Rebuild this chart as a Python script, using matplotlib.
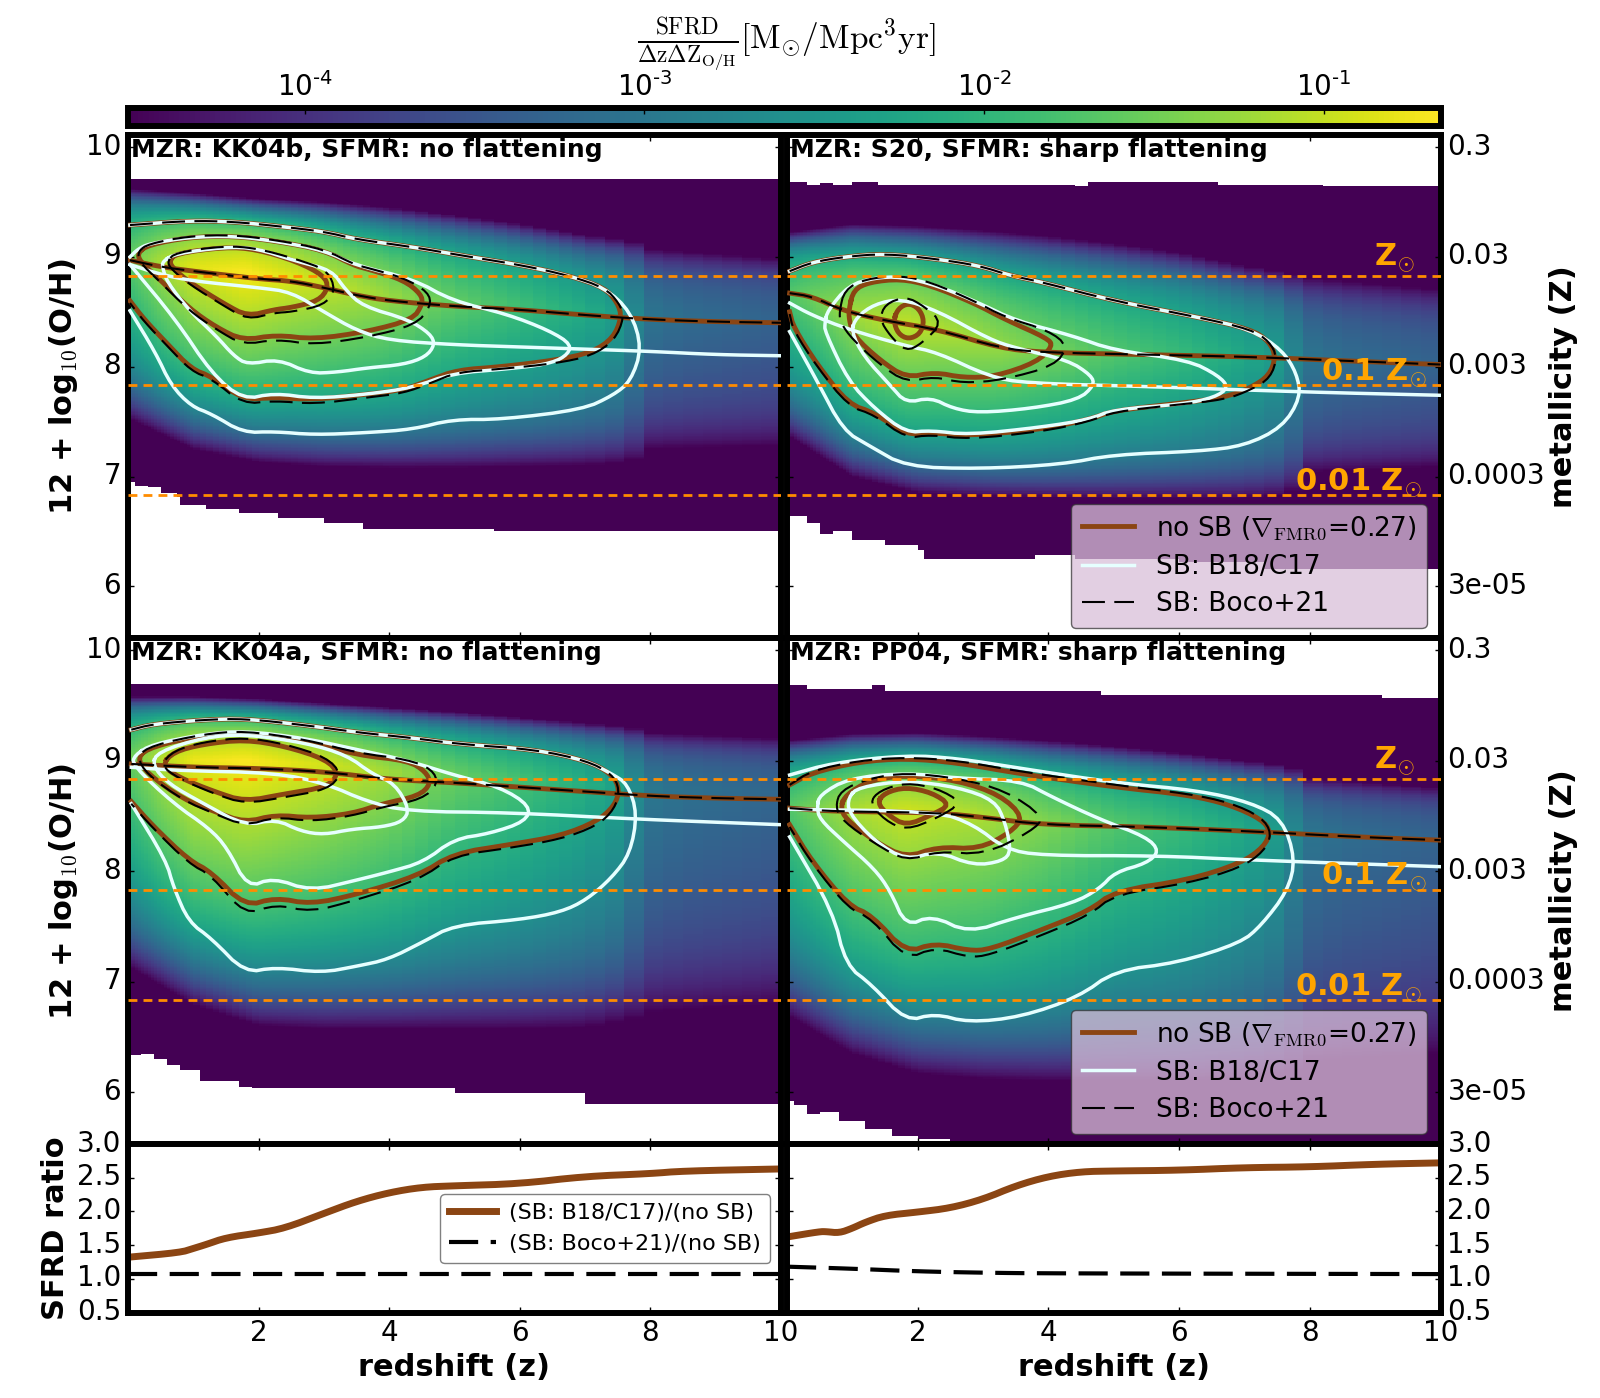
import numpy as np
import matplotlib
matplotlib.use('Agg')
import matplotlib.pyplot as plt
from matplotlib.colors import LogNorm
from matplotlib.lines import Line2D
from matplotlib.cm import ScalarMappable
from matplotlib.transforms import ScaledTranslation

# ---------------- titles and tick labels
titles = ['MZR: KK04b, SFMR: no flattening', 'MZR: S20, SFMR: sharp flattening',
          'MZR: KK04a, SFMR: no flattening', 'MZR: PP04, SFMR: sharp flattening']
oh_ticks = [6, 7, 8, 9, 10]
z_ticklabels = ['3e-05', '0.0003', '0.003', '0.03', '0.3']
solar_levels = [8.83, 7.83, 6.83]
cb_ticks = [1e-4, 1e-3, 1e-2, 1e-1]
log_vmin, log_vmax = -4.52, -0.657

# ---------------- heat-map description (log10 SFRD at the ridge, edges of the colour)
knots_p = [0, .5, 1, 1.8, 3, 4, 5, 6, 7, 7.6, 7.9, 8.5, 10]
TL_peak = [-1.6, -1.15, -.85, -.68, -.98, -1.25, -1.6, -1.85, -2.15, -2.4, -3.0, -3.15, -3.3]
TR_peak = [-1.7, -1.45, -1.2, -1.02, -1.22, -1.45, -1.7, -1.9, -2.2, -2.45, -3.0, -3.15, -3.3]
BL_peak = [-1.55, -1.1, -.78, -.68, -.92, -1.2, -1.55, -1.8, -2.1, -2.35, -2.95, -3.1, -3.25]
BR_peak = [-1.7, -1.4, -1.15, -.95, -1.13, -1.4, -1.7, -1.9, -2.2, -2.45, -3.0, -3.15, -3.3]
ridge_shift = [.05, 0, .07, .03]

knots_e = [0, 1, 2, 3, 4, 5, 6, 7, 7.7, 8, 10]
TL_top = [9.62, 9.58, 9.53, 9.5, 9.45, 9.38, 9.3, 9.2, 9.15, 9.07, 8.98]
TL_bot = [7.53, 7.25, 7.13, 7.09, 7.08, 7.08, 7.09, 7.1, 7.13, 7.25, 7.28]
TR_top = [9.22, 9.3, 9.28, 9.24, 9.19, 9.12, 9.04, 8.92, 8.85, 8.81, 8.7]
TR_bot = [7.38, 7.0, 6.85, 6.82, 6.81, 6.8, 6.8, 6.8, 6.83, 7.04, 7.09]
BL_top = [9.58, 9.58, 9.56, 9.52, 9.48, 9.44, 9.39, 9.34, 9.3, 9.25, 9.2]
BL_bot = [7.14, 6.79, 6.6, 6.57, 6.57, 6.57, 6.57, 6.58, 6.65, 6.72, 6.8]
BR_top = [9.18, 9.24, 9.25, 9.22, 9.18, 9.13, 9.07, 9.0, 8.95, 8.84, 8.75]
BR_bot = [6.7, 6.35, 6.17, 6.12, 6.1, 6.1, 6.1, 6.12, 6.18, 6.28, 6.35]

# edges of the populated area (white beyond)
TL_hi_z = [0, 10]
TL_hi = [9.71, 9.71]
TL_lo_z = [0, .1, .3, .5, .75, .8, 1.2, 1.7, 2.3, 3, 3.6, 5.6]
TL_lo = [6.96, 6.92, 6.9, 6.85, 6.81, 6.74, 6.7, 6.66, 6.62, 6.58, 6.52, 6.5]
TR_hi_z = [0, .3, .5, .7, 1.0, 1.4, 2, 4.5, 4.7, 6.6, 8.2]
TR_hi = [9.68, 9.66, 9.67, 9.66, 9.68, 9.66, 9.66, 9.65, 9.68, 9.66, 9.64]
TR_lo_z = [0, .3, .5, .7, 1, 1.5, 2, 2.1, 3, 3.8, 4.5, 6, 7.3]
TR_lo = [6.64, 6.58, 6.47, 6.5, 6.42, 6.38, 6.34, 6.25, 6.25, 6.28, 6.25, 6.22, 6.16]
BL_hi_z = [0, 10]
BL_hi = [9.69, 9.69]
BL_lo_z = [0, .2, .4, .6, .8, 1.1, 1.7, 1.9, 4.8, 5, 7]
BL_lo = [6.34, 6.35, 6.3, 6.25, 6.2, 6.1, 6.05, 6.03, 6.03, 6.0, 5.9]
BR_hi_z = [0, .3, 1.0, 1.3, 1.5, 4.3, 4.9, 9.0]
BR_hi = [9.68, 9.65, 9.65, 9.68, 9.63, 9.63, 9.6, 9.57]
BR_lo_z = [0, .1, .3, .5, .8, 1.2, 1.6, 2, 2.5, 3]
BR_lo = [5.92, 5.88, 5.8, 5.82, 5.74, 5.67, 5.6, 5.58, 5.53, 5.4]

# ---------------- mean-metallicity lines
TL_mean_nosb = [(.03, 8.97), (.5, 8.91), (1, 8.87), (2, 8.8), (2.5, 8.78), (3, 8.72), (3.5, 8.65), (4, 8.6), (5, 8.55), (6, 8.52), (7, 8.47), (8, 8.43), (9, 8.41), (10, 8.4)]
TL_mean_b18 = [(.03, 8.93), (.5, 8.84), (1, 8.78), (2, 8.72), (2.5, 8.68), (3, 8.5), (3.5, 8.33), (4, 8.24), (5, 8.2), (6, 8.18), (7, 8.16), (8, 8.14), (9, 8.11), (10, 8.1)]
TR_mean_nosb = [(.04, 8.67), (.38, 8.64), (.86, 8.51), (1.5, 8.42), (2.3, 8.34), (3.26, 8.17), (3.9, 8.13), (5.5, 8.11), (7.1, 8.09), (8.7, 8.05), (10, 8.02)]
TR_mean_b18 = [(.04, 8.58), (.38, 8.47), (.94, 8.34), (1.82, 8.19), (2.3, 8.13), (3.1, 7.91), (3.66, 7.85), (5.5, 7.82), (7.9, 7.77), (10, 7.74)]
BL_mean_nosb = [(.05, 8.97), (1, 8.94), (2, 8.93), (3, 8.9), (4, 8.83), (5, 8.8), (6, 8.76), (7, 8.72), (8, 8.68), (9, 8.66), (10, 8.65)]
BL_mean_b18 = [(.05, 8.94), (.77, 8.91), (2.26, 8.89), (3.04, 8.79), (3.66, 8.63), (4.29, 8.54), (5.85, 8.53), (7.8, 8.47), (10, 8.42)]
BR_mean_nosb = [(.04, 8.57), (.7, 8.54), (2.3, 8.53), (3.1, 8.48), (3.9, 8.42), (5.5, 8.4), (7.1, 8.36), (8.7, 8.31), (10, 8.28)]
BR_mean_b18 = [(.04, 8.56), (2.3, 8.54), (2.86, 8.42), (3.34, 8.2), (3.9, 8.14), (5.66, 8.14), (7.1, 8.1), (10, 8.04)]

# ---------------- contours: no SB
TL_nosb_1 = [(.03, 9.29), (.94, 9.33), (1.62, 9.32), (2.3, 9.28), (3, 9.23), (3.5, 9.16), (4.36, 9.09), (5.04, 9.02), (6.07, 8.92), (6.75, 8.83), (7.3, 8.72), (7.5, 8.58), (7.56, 8.45), (7.43, 8.26), (7.1, 8.13), (6.55, 8.06), (5.72, 8.0), (5.04, 7.97), (4.63, 7.88), (4.22, 7.79), (3.67, 7.75), (2.85, 7.7), (2.24, 7.72), (1.76, 7.7), (1.28, 7.91), (.97, 7.98), (.6, 8.21), (.25, 8.43), (.03, 8.6)]
TL_nosb_2 = [(.15, 9.04), (.32, 9.11), (.94, 9.18), (1.62, 9.19), (2.3, 9.14), (3, 9.06), (3.47, 8.92), (3.67, 8.89), (4.22, 8.79), (4.49, 8.66), (4.51, 8.57), (4.36, 8.43), (3.67, 8.32), (2.85, 8.25), (2.27, 8.29), (1.76, 8.24), (1.35, 8.36), (.94, 8.53), (.46, 8.81), (.18, 8.96)]
TL_nosb_3 = [(.63, 8.96), (.73, 9.03), (1.48, 9.09), (1.96, 9.07), (2.58, 8.96), (3, 8.83), (3.07, 8.72), (2.92, 8.6), (2.51, 8.54), (2.24, 8.52), (1.83, 8.46), (1.48, 8.57), (.94, 8.77), (.7, 8.89)]
TR_nosb_1 = [(.04, 8.87), (.38, 8.95), (.86, 9.0), (1.5, 9.03), (2.3, 8.98), (2.94, 8.92), (3.42, 8.83), (3.9, 8.77), (5.0, 8.6), (6.3, 8.45), (7.1, 8.34), (7.38, 8.23), (7.48, 8.09), (7.38, 7.92), (7.1, 7.81), (6.7, 7.72), (5.9, 7.66), (5.0, 7.6), (4.62, 7.52), (3.9, 7.43), (2.78, 7.37), (2.2, 7.4), (1.82, 7.38), (1.34, 7.58), (.94, 7.66), (.46, 8.02), (.1, 8.36), (.04, 8.5)]
TR_nosb_2 = [(.95, 8.53), (1.02, 8.7), (1.26, 8.77), (1.74, 8.8), (2.2, 8.74), (2.86, 8.58), (3.34, 8.43), (3.98, 8.26), (4.07, 8.19), (3.82, 8.04), (3.18, 7.91), (2.7, 7.9), (2.26, 7.95), (1.82, 7.9), (1.42, 8.06), (1.02, 8.28), (.95, 8.43)]
TR_nosb_3 = [(1.63, 8.42), (1.7, 8.53), (1.86, 8.58), (2.02, 8.53), (2.1, 8.42), (2.04, 8.3), (1.86, 8.25), (1.7, 8.3)]
BL_nosb_1 = [(.05, 9.28), (.38, 9.33), (1.16, 9.37), (1.79, 9.38), (2.73, 9.32), (3.59, 9.25), (4.29, 9.21), (5.07, 9.15), (6.24, 9.1), (7.02, 9.0), (7.41, 8.88), (7.53, 8.74), (7.45, 8.59), (7.18, 8.45), (6.63, 8.32), (5.85, 8.24), (4.99, 8.16), (4.45, 7.96), (3.51, 7.79), (2.8, 7.7), (2.26, 7.76), (1.79, 7.68), (1.28, 7.99), (.93, 8.1), (.38, 8.41), (.05, 8.63)]
BL_nosb_2 = [(.13, 9.03), (.38, 9.13), (1.16, 9.23), (1.79, 9.26), (2.73, 9.18), (3.51, 9.05), (4.29, 9.0), (4.56, 8.9), (4.64, 8.79), (4.45, 8.68), (3.9, 8.61), (3.43, 8.52), (2.8, 8.48), (2.26, 8.51), (1.79, 8.44), (1.32, 8.54), (.85, 8.65), (.3, 8.88)]
BL_nosb_3 = [(.52, 8.96), (.7, 9.08), (1.16, 9.15), (1.79, 9.19), (2.41, 9.13), (3.04, 9.01), (3.23, 8.88), (3.04, 8.76), (2.41, 8.7), (1.79, 8.63), (1.32, 8.72), (.77, 8.85)]
BR_nosb_1 = [(.04, 8.78), (.38, 8.89), (1.1, 8.99), (1.82, 9.02), (2.62, 8.98), (3.58, 8.88), (5.02, 8.76), (6.14, 8.69), (6.78, 8.6), (7.26, 8.47), (7.4, 8.36), (7.3, 8.22), (6.94, 8.07), (6.14, 7.92), (5.02, 7.82), (4.62, 7.64), (3.9, 7.47), (3.1, 7.29), (2.78, 7.28), (2.26, 7.35), (1.82, 7.26), (1.3, 7.6), (.94, 7.69), (.38, 8.09), (.04, 8.42)]
BR_nosb_2 = [(.82, 8.58), (.9, 8.69), (1.26, 8.82), (1.82, 8.87), (2.62, 8.82), (3.26, 8.69), (3.62, 8.49), (3.42, 8.35), (2.94, 8.2), (2.3, 8.22), (1.82, 8.12), (1.34, 8.27), (.9, 8.47)]
BR_nosb_3 = [(1.38, 8.62), (1.5, 8.71), (1.82, 8.76), (2.22, 8.71), (2.5, 8.6), (2.22, 8.51), (1.82, 8.41), (1.54, 8.51)]

# ---------------- contours: SB B18/C17
TL_b18_1 = [(.03, 9.29), (.94, 9.33), (1.62, 9.32), (2.3, 9.28), (3, 9.23), (3.5, 9.16), (4.36, 9.09), (5.04, 9.02), (6.07, 8.92), (6.75, 8.83), (7.3, 8.72), (7.7, 8.5), (7.87, 8.17), (7.7, 7.87), (7.43, 7.74), (6.96, 7.61), (5.73, 7.52), (4.97, 7.52), (4.36, 7.43), (3.67, 7.4), (2.85, 7.38), (2.24, 7.41), (1.76, 7.4), (1.28, 7.57), (.97, 7.64), (.66, 7.83), (.42, 8.13), (.03, 8.51)]
TL_b18_2 = [(.03, 9.0), (.15, 9.07), (.32, 9.12), (.94, 9.18), (1.62, 9.19), (2.3, 9.14), (3, 9.06), (3.5, 8.92), (4.36, 8.8), (4.97, 8.6), (5.8, 8.48), (6.45, 8.33), (6.8, 8.2), (6.7, 8.09), (6.4, 8.02), (5.8, 7.98), (4.97, 7.94), (4.36, 7.81), (3.67, 7.75), (2.85, 7.71), (2.24, 7.76), (1.76, 7.7), (1.28, 7.94), (.73, 8.43), (.03, 8.93)]
TL_b18_3 = [(.53, 8.96), (.73, 9.03), (1.48, 9.09), (1.96, 9.08), (2.58, 8.96), (3.12, 8.88), (3.33, 8.7), (3.6, 8.55), (4.29, 8.43), (4.63, 8.3), (4.7, 8.2), (4.56, 8.09), (4.22, 8.02), (3.67, 7.99), (3.2, 7.95), (2.78, 7.94), (2.3, 8.07), (1.83, 8.02), (1.62, 8.1), (1.35, 8.28), (.94, 8.51), (.6, 8.77), (.53, 8.9)]
TR_b18_1 = [(.04, 8.87), (.38, 8.95), (.86, 9.0), (1.5, 9.03), (2.3, 8.98), (2.94, 8.92), (3.42, 8.83), (3.9, 8.77), (5.0, 8.6), (6.3, 8.45), (7.1, 8.34), (7.58, 8.15), (7.8, 7.94), (7.86, 7.72), (7.58, 7.45), (7.0, 7.28), (6.3, 7.23), (5.0, 7.2), (4.2, 7.11), (2.94, 7.07), (1.82, 7.09), (1.26, 7.28), (.86, 7.42), (.46, 7.87), (.04, 8.32)]
TR_b18_2 = [(.58, 8.4), (.62, 8.51), (.94, 8.74), (1.34, 8.81), (1.74, 8.82), (2.3, 8.74), (2.94, 8.58), (3.5, 8.42), (4.38, 8.28), (5.0, 8.15), (6.14, 8.06), (6.6, 7.92), (6.76, 7.81), (6.54, 7.72), (6.06, 7.66), (5.0, 7.61), (4.62, 7.52), (3.9, 7.45), (2.78, 7.38), (2.2, 7.42), (1.82, 7.4), (1.34, 7.62), (.94, 7.87), (.58, 8.32)]
TR_b18_3 = [(.98, 8.32), (1.06, 8.45), (1.34, 8.57), (1.74, 8.62), (2.3, 8.51), (3.1, 8.25), (3.5, 8.17), (4.3, 8.06), (4.66, 7.92), (4.7, 7.83), (4.46, 7.7), (3.74, 7.62), (2.94, 7.58), (2.54, 7.62), (2.2, 7.72), (1.82, 7.67), (1.58, 7.83), (1.18, 8.09)]
BL_b18_1 = [(.05, 9.28), (.38, 9.33), (1.16, 9.37), (1.79, 9.38), (2.73, 9.32), (3.59, 9.25), (4.29, 9.21), (5.07, 9.15), (6.24, 9.1), (7.02, 9.0), (7.41, 8.88), (7.65, 8.79), (7.8, 8.52), (7.69, 8.16), (7.41, 7.94), (7.02, 7.74), (6.63, 7.63), (6.0, 7.56), (4.99, 7.51), (4.52, 7.36), (3.98, 7.2), (3.51, 7.14), (2.96, 7.08), (2.26, 7.13), (1.79, 7.08), (1.28, 7.39), (.93, 7.54), (.7, 7.85), (.58, 8.1), (.05, 8.61)]
BL_b18_2 = [(.1, 9.05), (.38, 9.15), (1.16, 9.24), (1.79, 9.27), (2.73, 9.2), (3.51, 9.1), (4.29, 9.0), (4.99, 8.87), (5.7, 8.76), (6.16, 8.59), (6.09, 8.45), (5.54, 8.34), (4.99, 8.29), (4.52, 8.08), (3.98, 7.99), (3.51, 7.92), (2.8, 7.82), (2.22, 7.94), (1.83, 7.85), (1.52, 8.21), (1.24, 8.39), (.7, 8.61), (.07, 8.96)]
BL_b18_3 = [(.37, 8.96), (.46, 9.08), (1.16, 9.21), (1.79, 9.24), (2.73, 9.16), (3.35, 9.05), (3.74, 8.88), (4.09, 8.79), (4.31, 8.56), (4.21, 8.45), (3.9, 8.4), (3.43, 8.38), (3.0, 8.33), (2.65, 8.36), (2.26, 8.47), (1.79, 8.41), (1.16, 8.61), (.62, 8.79)]
BR_b18_1 = [(.04, 8.87), (.7, 8.98), (1.82, 9.05), (2.62, 9.02), (3.58, 8.93), (5.02, 8.8), (6.3, 8.73), (7.1, 8.62), (7.58, 8.47), (7.78, 8.11), (7.66, 7.82), (7.26, 7.51), (6.94, 7.35), (5.98, 7.17), (5.02, 7.1), (4.46, 6.86), (3.58, 6.68), (2.78, 6.63), (2.26, 6.71), (1.82, 6.64), (1.3, 6.97), (.9, 7.15), (.7, 7.64), (.04, 8.31)]
BR_b18_2 = [(.46, 8.58), (.5, 8.69), (.94, 8.84), (1.82, 8.89), (2.62, 8.84), (3.58, 8.82), (4.06, 8.67), (4.78, 8.47), (5.5, 8.31), (5.7, 8.18), (5.5, 8.07), (5.02, 7.99), (4.78, 7.84), (4.38, 7.71), (3.5, 7.58), (2.78, 7.44), (2.22, 7.6), (1.82, 7.5), (1.58, 7.82), (1.34, 8.02), (.86, 8.27), (.5, 8.47)]
BR_b18_3 = [(.94, 8.67), (1.1, 8.76), (1.82, 8.82), (2.62, 8.76), (3.18, 8.64), (3.34, 8.44), (3.43, 8.18), (3.3, 8.09), (2.86, 8.05), (2.3, 8.18), (1.82, 8.1), (1.34, 8.27), (.94, 8.53)]

# ---------------- contours: SB Boco+21
TL_boco_1 = [(.03, 9.29), (.94, 9.33), (1.62, 9.32), (2.3, 9.28), (3, 9.23), (3.5, 9.16), (4.36, 9.09), (5.04, 9.02), (6.07, 8.92), (6.75, 8.83), (7.3, 8.72), (7.52, 8.58), (7.6, 8.45), (7.45, 8.24), (7.1, 8.1), (6.55, 8.03), (5.72, 7.98), (5.04, 7.95), (4.63, 7.85), (4.22, 7.76), (3.67, 7.72), (2.85, 7.66), (2.24, 7.69), (1.76, 7.66), (1.28, 7.89), (.97, 7.96), (.6, 8.19), (.25, 8.41), (.03, 8.58)]
TL_boco_2 = [(.15, 9.05), (.32, 9.12), (.94, 9.19), (1.62, 9.2), (2.3, 9.15), (3, 9.07), (3.47, 8.93), (3.67, 8.9), (4.22, 8.81), (4.6, 8.68), (4.64, 8.55), (4.4, 8.38), (3.67, 8.27), (2.85, 8.2), (2.27, 8.25), (1.76, 8.2), (1.35, 8.34), (.94, 8.51), (.46, 8.79), (.18, 8.95)]
TL_boco_3 = [(.6, 8.96), (.73, 9.04), (1.48, 9.1), (1.96, 9.08), (2.58, 8.98), (3.05, 8.88), (3.18, 8.7), (3.0, 8.56), (2.51, 8.5), (2.24, 8.49), (1.83, 8.43), (1.48, 8.55), (.94, 8.75), (.66, 8.89)]
TR_boco_1 = [(.04, 8.87), (.38, 8.95), (.86, 9.0), (1.5, 9.03), (2.3, 8.98), (2.94, 8.92), (3.42, 8.83), (3.9, 8.77), (5.0, 8.6), (6.3, 8.45), (7.1, 8.34), (7.38, 8.23), (7.5, 8.09), (7.4, 7.9), (7.1, 7.79), (6.7, 7.7), (5.9, 7.65), (5.0, 7.59), (4.62, 7.5), (3.9, 7.41), (2.78, 7.34), (2.2, 7.38), (1.82, 7.35), (1.34, 7.56), (.94, 7.64), (.46, 8.0), (.1, 8.33), (.04, 8.48)]
TR_boco_2 = [(.8, 8.5), (.88, 8.7), (1.2, 8.8), (1.74, 8.83), (2.2, 8.77), (2.86, 8.6), (3.34, 8.45), (4.0, 8.33), (4.3, 8.19), (4.1, 8.01), (3.3, 7.88), (2.7, 7.85), (2.26, 7.91), (1.82, 7.86), (1.42, 8.02), (1.0, 8.25), (.82, 8.4)]
TR_boco_3 = [(1.42, 8.43), (1.5, 8.57), (1.82, 8.64), (2.1, 8.55), (2.38, 8.4), (2.06, 8.21), (1.82, 8.14), (1.58, 8.28)]
BL_boco_1 = [(.05, 9.28), (.38, 9.33), (1.16, 9.37), (1.79, 9.38), (2.73, 9.32), (3.59, 9.25), (4.29, 9.21), (5.07, 9.15), (6.24, 9.1), (7.02, 9.0), (7.41, 8.88), (7.53, 8.74), (7.45, 8.56), (7.18, 8.41), (6.63, 8.29), (5.85, 8.21), (4.99, 8.14), (4.45, 7.92), (3.51, 7.74), (2.8, 7.63), (2.26, 7.7), (1.79, 7.6), (1.28, 7.96), (.93, 8.07), (.38, 8.39), (.05, 8.61)]
BL_boco_2 = [(.13, 9.04), (.38, 9.14), (1.16, 9.24), (1.79, 9.27), (2.73, 9.19), (3.51, 9.07), (4.29, 9.01), (4.66, 8.92), (4.75, 8.79), (4.5, 8.65), (3.9, 8.58), (3.43, 8.5), (2.8, 8.45), (2.26, 8.49), (1.79, 8.41), (1.32, 8.52), (.85, 8.64), (.3, 8.87)]
BL_boco_3 = [(.5, 8.96), (.7, 9.09), (1.16, 9.17), (1.79, 9.21), (2.41, 9.15), (3.04, 9.03), (3.27, 8.88), (3.06, 8.74), (2.41, 8.67), (1.79, 8.61), (1.32, 8.7), (.77, 8.84)]
BR_boco_1 = [(.04, 8.78), (.38, 8.91), (1.1, 9.0), (1.82, 9.03), (2.62, 9.0), (3.58, 8.9), (5.02, 8.78), (6.14, 8.7), (6.78, 8.62), (7.26, 8.49), (7.42, 8.34), (7.3, 8.18), (6.94, 8.03), (6.14, 7.89), (5.02, 7.79), (4.62, 7.6), (3.9, 7.42), (3.1, 7.24), (2.78, 7.22), (2.26, 7.31), (1.82, 7.2), (1.3, 7.57), (.94, 7.66), (.38, 8.07), (.04, 8.4)]
BR_boco_2 = [(.74, 8.58), (.82, 8.73), (1.26, 8.84), (1.82, 8.89), (2.62, 8.84), (3.34, 8.73), (3.94, 8.49), (3.74, 8.36), (3.02, 8.15), (2.3, 8.18), (1.82, 8.09), (1.34, 8.25), (.86, 8.45)]
BR_boco_3 = [(1.26, 8.62), (1.42, 8.73), (1.82, 8.8), (2.3, 8.75), (2.68, 8.62), (2.3, 8.48), (1.82, 8.37), (1.5, 8.46)]

# ---------------- SFRD ratio
L_ratio_b18 = [(0, 1.32), (.8, 1.39), (1.0, 1.45), (1.2, 1.51), (1.5, 1.61), (2, 1.68), (2.4, 1.75), (3, 1.97), (3.5, 2.15), (4, 2.28), (4.5, 2.36), (5, 2.38), (6, 2.41), (7, 2.52), (8, 2.56), (8.5, 2.6), (10, 2.63)]
L_ratio_boco = [(0, 1.07), (5, 1.07), (10, 1.07)]
R_ratio_b18 = [(0, 1.62), (.5, 1.7), (.6, 1.7), (.8, 1.68), (1, 1.75), (1.2, 1.84), (1.5, 1.94), (2, 1.99), (2.5, 2.05), (3, 2.18), (3.5, 2.38), (4, 2.52), (4.5, 2.59), (5, 2.6), (6, 2.61), (7, 2.65), (8, 2.66), (9, 2.7), (10, 2.72)]
R_ratio_boco = [(0, 1.18), (1, 1.15), (2, 1.11), (3, 1.09), (4, 1.08), (10, 1.07)]

# ---------------- styling
W, H = 1600, 1398
BROWN, WHITE, ORANGE = 'saddlebrown', '#e6ffff', 'darkorange'
LBL = 'orange'
plt.rcParams['font.family'] = ['DejaVu Sans']
plt.rcParams['mathtext.fontset'] = 'cm'
plt.rcParams['axes.linewidth'] = 4.3
plt.rcParams['legend.fancybox'] = True

fig = plt.figure(figsize=(W / 100, H / 100), dpi=100, facecolor='white')


def box(x0, x1, y0, y1):
    return [x0 / W, 1 - y1 / H, (x1 - x0) / W, (y1 - y0) / H]


def rounded(a, closed, passes=2):
    # corner rounding of the line drawn through the points
    for _ in range(passes):
        if closed:
            b = np.roll(a, -1, axis=0)
            a = np.vstack([[.75 * p + .25 * q, .25 * p + .75 * q] for p, q in zip(a, b)])
        else:
            mid = np.vstack([[.75 * p + .25 * q, .25 * p + .75 * q] for p, q in zip(a[:-1], a[1:])])
            a = np.vstack([a[:1], mid, a[-1:]])
    return a


def xy(pts):
    a = np.array(pts, float)
    closed = a[0, 0] > 0.06
    a = rounded(a, closed)
    if closed:
        a = np.vstack([a, a[:1]])
    return a[:, 0], a[:, 1]


def field(ax, peak, top, bot, hi_z, hi, lo_z, lo, mean, shift, norm):
    z_edges = np.concatenate([np.arange(0, 1, .05), np.arange(1, 4, .1), np.arange(4, 7, .2), np.arange(7, 10.01, .3)])
    z_edges[-1] = 10
    y_edges = np.linspace(5.3, 10.1, 381)
    zc = .5 * (z_edges[1:] + z_edges[:-1])
    yc = .5 * (y_edges[1:] + y_edges[:-1])
    m = np.array(mean)
    P = np.interp(zc, knots_p, peak)
    MU = np.interp(zc, m[:, 0], m[:, 1]) + shift
    T = np.interp(zc, knots_e, top)
    B = np.interp(zc, knots_e, bot)
    HI = np.array(hi)[np.searchsorted(hi_z, zc, side='right') - 1]
    LO = np.array(lo)[np.searchsorted(lo_z, zc, side='right') - 1]
    Y, _ = np.meshgrid(yc, zc, indexing='ij')
    up = np.clip((Y - MU) / (T - MU), 0, 1.5)
    dn = np.clip((MU - Y) / (MU - B), 0, 1.5)
    f = np.where(Y > MU, .3 * up + .7 * up ** 4, .48 * dn + .52 * dn ** 5)
    val = np.maximum(P + (log_vmin - P) * f, log_vmin + .001)
    val = np.ma.masked_where((Y > HI) | (Y < LO), 10 ** val)
    ax.pcolormesh(z_edges, y_edges, val, cmap='viridis', norm=norm, shading='flat', rasterized=True, zorder=1)


def lift(ax, px=3.5):
    off = ScaledTranslation(0, px / 100, fig.dpi_scale_trans)
    for lab in ax.get_yticklabels():
        lab.set_transform(lab.get_transform() + off)


norm = LogNorm(10 ** log_vmin, 10 ** log_vmax)
X_L, X_R = (128, 781), (787, 1440.5)
Y_T, Y_B, Y_R = (135, 638), (638, 1144), (1144, 1312.5)

panels = [
    (X_L, Y_T, TL_peak, TL_top, TL_bot, TL_hi_z, TL_hi, TL_lo_z, TL_lo, TL_mean_nosb, TL_mean_b18,
     [TL_nosb_1, TL_nosb_2, TL_nosb_3], [TL_b18_1, TL_b18_2, TL_b18_3], [TL_boco_1, TL_boco_2, TL_boco_3], titles[0]),
    (X_R, Y_T, TR_peak, TR_top, TR_bot, TR_hi_z, TR_hi, TR_lo_z, TR_lo, TR_mean_nosb, TR_mean_b18,
     [TR_nosb_1, TR_nosb_2, TR_nosb_3], [TR_b18_1, TR_b18_2, TR_b18_3], [TR_boco_1, TR_boco_2, TR_boco_3], titles[1]),
    (X_L, Y_B, BL_peak, BL_top, BL_bot, BL_hi_z, BL_hi, BL_lo_z, BL_lo, BL_mean_nosb, BL_mean_b18,
     [BL_nosb_1, BL_nosb_2, BL_nosb_3], [BL_b18_1, BL_b18_2, BL_b18_3], [BL_boco_1, BL_boco_2, BL_boco_3], titles[2]),
    (X_R, Y_B, BR_peak, BR_top, BR_bot, BR_hi_z, BR_hi, BR_lo_z, BR_lo, BR_mean_nosb, BR_mean_b18,
     [BR_nosb_1, BR_nosb_2, BR_nosb_3], [BR_b18_1, BR_b18_2, BR_b18_3], [BR_boco_1, BR_boco_2, BR_boco_3], titles[3]),
]
DASH = (0, (11, 4.5))
ticks_kw = dict(direction='in', length=4, width=1, labelsize=20, pad=5)

for i, p in enumerate(panels):
    xs, ys, peak, top, bot, hi_z, hi, lo_z, lo, mn, mb, c_n, c_b, c_c, title = p
    ax = fig.add_axes(box(xs[0], xs[1], ys[0], ys[1]))
    field(ax, peak, top, bot, hi_z, hi, lo_z, lo, mn, ridge_shift[i], norm)
    for c in c_n + [mn]:
        ax.plot(*xy(c), color=BROWN, lw=3.5, zorder=3, solid_joinstyle='round')
    for c in c_b + [mb]:
        ax.plot(*xy(c), color=WHITE, lw=2.5, zorder=4, solid_joinstyle='round')
    for c in c_c + [mn]:
        ax.plot(*xy(c), color='k', lw=1.5, ls=DASH, zorder=5)
    for lv in solar_levels:
        ax.axhline(lv, color=ORANGE, ls=(0, (3.2, 2.2)), lw=2, zorder=6)
    ax.set_xlim(0, 10)
    ax.set_ylim(5.53, 10.11)
    ax.set_xticks(range(0, 11, 2))
    ax.set_yticks(oh_ticks)
    ax.tick_params(top=True, right=True, labelbottom=False, **ticks_kw)
    ax.text(.004, .97, title, transform=ax.transAxes, fontsize=18, fontweight='bold', va='center', ha='left', zorder=8)
    if xs is X_L:
        ax.set_ylabel(r'12 + log$_{10}$(O/H)', fontsize=22, fontweight='bold', va='center')
        ax.yaxis.set_label_coords((63 - xs[0]) / (xs[1] - xs[0]), .5)
    else:
        ax.yaxis.set_ticks_position('both')
        ax.tick_params(labelleft=False, labelright=True)
        ax.set_yticklabels(z_ticklabels)
        ax.yaxis.set_label_position('right')
        ax.set_ylabel('metallicity (Z)', fontsize=22, fontweight='bold', va='center', rotation=90)
        ax.yaxis.set_label_coords((1564 - xs[0]) / (xs[1] - xs[0]), .5)
        tkw = dict(color=LBL, fontsize=22, fontweight='bold', ha='right', va='baseline', zorder=8)
        tr = ax.get_yaxis_transform()
        ax.text((1415 - xs[0]) / (xs[1] - xs[0]), 8.93, r'Z$_{\odot}$', transform=tr, **tkw)
        ax.text((1427 - xs[0]) / (xs[1] - xs[0]), 7.88, r'0.1 Z$_{\odot}$', transform=tr, **tkw)
        ax.text((1422 - xs[0]) / (xs[1] - xs[0]), 6.88, r'0.01 Z$_{\odot}$', transform=tr, **tkw)
        handles = [Line2D([], [], color=BROWN, lw=3.5), Line2D([], [], color=WHITE, lw=2.5),
                   Line2D([], [], color='k', lw=1.5, ls=DASH)]
        leg = ax.legend(handles, [r'no SB ($\nabla_{\rm FMR0}$=0.27)', 'SB: B18/C17', 'SB: Boco+21'],
                        loc='lower right', bbox_to_anchor=(.979, .02), borderaxespad=0, fontsize=19,
                        facecolor='thistle', edgecolor='0.2', framealpha=.74, handlelength=2.0,
                        labelspacing=.44, borderpad=.4, handletextpad=.8)
        leg.set_zorder(9)
    lift(ax)

# ---------------- ratio panels
for xs, rb, rc in [(X_L, L_ratio_b18, L_ratio_boco), (X_R, R_ratio_b18, R_ratio_boco)]:
    ax = fig.add_axes(box(xs[0], xs[1], Y_R[0], Y_R[1]))
    l1, = ax.plot(*xy(rb), color=BROWN, lw=5, label='(SB: B18/C17)/(no SB)')
    l2, = ax.plot(*xy(rc), color='k', lw=3, ls=(0, (7, 3)), label='(SB: Boco+21)/(no SB)')
    ax.set_xlim(0, 10)
    ax.set_ylim(.5, 3)
    ax.set_xticks(range(0, 11, 2))
    ax.set_yticks([.5, 1, 1.5, 2, 2.5, 3])
    ax.set_yticklabels(['0.5', '1.0', '1.5', '2.0', '2.5', '3.0'])
    ax.tick_params(top=True, right=True, **ticks_kw)
    ax.set_xticklabels(['', '2', '4', '6', '8', '10'])
    ax.set_xlabel('redshift (z)', fontsize=22, fontweight='bold', va='center')
    ax.xaxis.set_label_coords(.5, -(1368 - Y_R[1]) / (Y_R[1] - Y_R[0]))
    if xs is X_L:
        ax.set_ylabel('SFRD ratio', fontsize=22, fontweight='bold', va='center')
        ax.yaxis.set_label_coords((55.5 - xs[0]) / (xs[1] - xs[0]), .5)
        ax.legend(loc='lower right', bbox_to_anchor=((770 - xs[0]) / (xs[1] - xs[0]), (Y_R[1] - 1263) / (Y_R[1] - Y_R[0])),
                  borderaxespad=0, fontsize=16, edgecolor='0.5', framealpha=1, handlelength=2.1, handletextpad=.6)
    else:
        ax.tick_params(labelleft=False, labelright=True)
    lift(ax)

# ---------------- colour bar
cax = fig.add_axes(box(X_L[0], X_R[1], 108, 126))
cb = fig.colorbar(ScalarMappable(norm=norm, cmap='viridis'), cax=cax, orientation='horizontal', ticklocation='top')
cb.set_ticks(cb_ticks)
cb.set_ticklabels([r'10$^{\text{-}4}$', r'10$^{\text{-}3}$', r'10$^{\text{-}2}$', r'10$^{\text{-}1}$'])
cb.ax.minorticks_off()
cb.outline.set_linewidth(4.3)
cax.tick_params(direction='in', length=4, width=1, labelsize=20, pad=4)
for lab in cax.get_xticklabels():
    lab.set_math_fontfamily('dejavusans')
fig.text(786 / W, 1 - 45 / H, r'$\frac{\rm SFRD}{\Delta \rm z \Delta \rm Z_{O/H}} [\rm M_{\odot}/Mpc^3 yr]$',
         fontsize=24, ha='center', va='center')

fig.savefig('out.png', dpi=100, facecolor='white')
